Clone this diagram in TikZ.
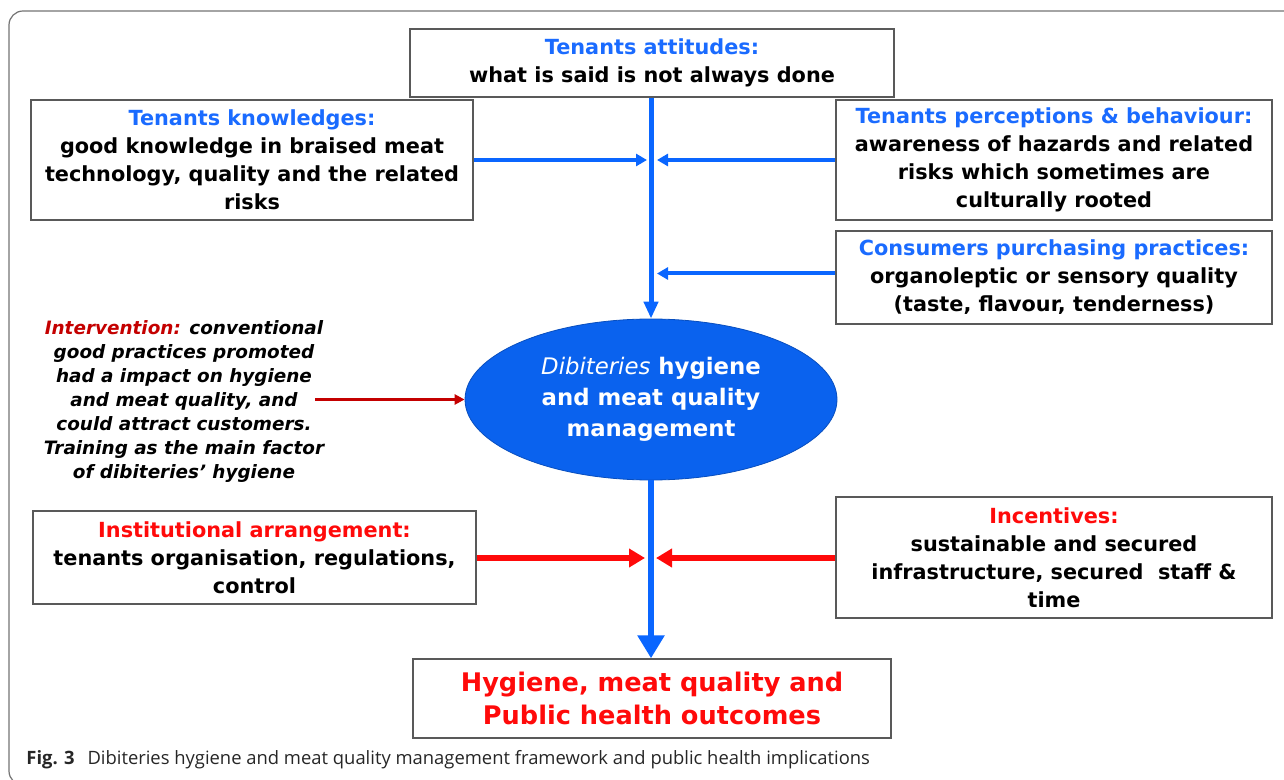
\documentclass[tikz,border=0pt]{standalone}
\usepackage{fontspec}
\setmainfont{DejaVu Sans}
\newfontfamily\capfont{Open Sans}
\usetikzlibrary{arrows.meta,shapes.geometric}

\definecolor{ttlblue}{HTML}{1A6BFF}
\definecolor{ellblue}{HTML}{0A62EE}
\definecolor{lineblue}{HTML}{0A66FF}
\definecolor{ivred}{HTML}{C40000}
\definecolor{hotred}{HTML}{FF0A0A}

\begin{document}
\begin{tikzpicture}[x=0.5pt,y=-0.5pt,
  box/.style={draw=black!65,line width=0.7pt,fill=white,align=center,inner sep=0pt,
    font=\bfseries\fontsize{10.4}{14}\selectfont},
  feedin/.style={lineblue,line width=2pt,-{Triangle[length=5.5pt,width=6pt]}},
  ctrlin/.style={hotred,line width=3pt,-{Triangle[length=8pt,width=9pt]}},
  spine/.style={lineblue,line width=2.5pt}]
\path[use as bounding box,clip] (0,0) rectangle (1284,780);
% figure frame
\draw[black!55,line width=0.6pt,rounded corners=7pt] (1300,11) -- (9,11) -- (9,785) -- (1300,785);

% boxes
\node[box,minimum width=242pt,minimum height=34pt] (attitudes) at (652,63)
  {\textcolor{ttlblue}{Tenants attitudes:}\\what is said is not always done};
\node[box,minimum width=221pt,minimum height=60pt] (knowledge) at (252,160)
  {\textcolor{ttlblue}{Tenants knowledges:}\\good knowledge in braised meat\\technology, quality and the related\\risks};
\node[box,minimum width=218pt,minimum height=60pt] (perception) at (1054,160)
  {\textcolor{ttlblue}{Tenants perceptions \& behaviour:}\\awareness of hazards and related\\risks which sometimes are\\culturally rooted};
\node[box,minimum width=218pt,minimum height=46.5pt] (purchase) at (1054,277.5)
  {\textcolor{ttlblue}{Consumers purchasing practices:}\\organoleptic or sensory quality\\(taste, flavour, tenderness)};
\node[ellipse,fill=ellblue,draw=ellblue!80!black,line width=0.4pt,text=white,align=center,inner sep=0pt,
  minimum width=186pt,minimum height=80.5pt,font=\bfseries\fontsize{11.4}{15.5}\selectfont] (mgmt) at (651,399.5)
  {{\mdseries\itshape Dibiteries} hygiene\\and meat quality\\management};
\node[align=center,font=\bfseries\itshape\fontsize{9.2}{12}\selectfont] (intervention) at (184,401)
  {\textcolor{ivred}{Intervention:} conventional\\good practices promoted\\had a impact on hygiene\\and meat quality, and\\could attract customers.\\Training as the main factor\\of dibiteries' hygiene};
\node[box,minimum width=221.5pt,minimum height=46.5pt] (institution) at (254.5,557.5)
  {\textcolor{hotred}{Institutional arrangement:}\\tenants organisation, regulations,\\control};
\node[box,minimum width=218pt,minimum height=60.5pt] (incentives) at (1054,557.5)
  {\textcolor{hotred}{Incentives:}\\sustainable and secured\\infrastructure, secured\ \ staff \&\\time};
\node[box,minimum width=239pt,minimum height=39.5pt,text=hotred,
  font=\bfseries\fontsize{12.8}{16.5}\selectfont] (outcome) at (652,698.5)
  {Hygiene, meat quality and\\Public health outcomes};

% caption
\node[anchor=west,inner sep=0pt,text=black!85,font=\capfont\fontsize{9.2}{11}\selectfont] (caption) at (26,760)
  {\textbf{Fig. 3}\hspace{0.7em}Dibiteries hygiene and meat quality management framework and public health implications};

% spine through the management node
\draw[spine,-{Triangle[length=8.5pt,width=7pt]}] (mgmt.north |- attitudes.south) -- (mgmt.north);
\draw[spine,line width=3pt,-{Triangle[length=11.5pt,width=13pt]}] (mgmt.south) -- (mgmt.south |- outcome.north);

% side inputs
\coordinate (kn) at (647,160);
\coordinate (pe) at (657,160);
\coordinate (pu) at (657,273.5);
\coordinate (in) at (645,558);
\coordinate (ic) at (656,558);
\coordinate (ivfrom) at (315,399.5);
\draw[feedin] (knowledge.east) -- (kn);
\draw[feedin] (perception.west) -- (pe);
\draw[feedin] (purchase.west |- pu) -- (pu);
\draw[ctrlin] (institution.east |- in) -- (in);
\draw[ctrlin] (incentives.west |- ic) -- (ic);
\draw[ivred,line width=1.5pt,-{Triangle[length=5pt,width=5pt]}] (ivfrom) -- (mgmt.west);
\end{tikzpicture}
\end{document}
